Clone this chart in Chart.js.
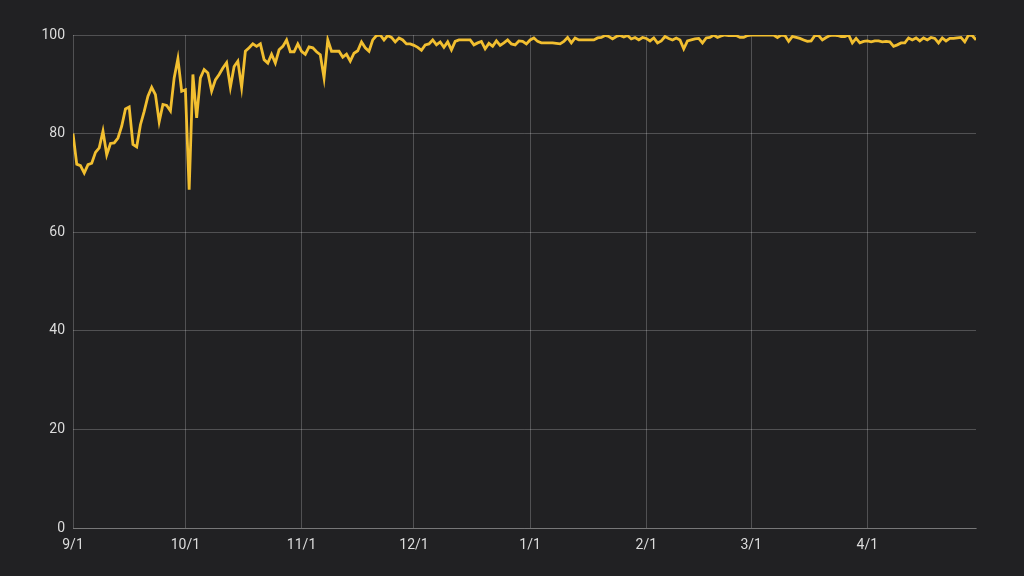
<!DOCTYPE html>
<html>
<head>
<meta charset="utf-8">
<script src="https://cdn.jsdelivr.net/npm/chart.js@4"></script>
<style>
html,body{margin:0;padding:0;background:#212123;}
#wrap{width:1024px;height:576px;position:relative;}
</style>
</head>
<body>
<div id="wrap"><canvas id="c" width="1024" height="576"></canvas></div>
<script>
// Daily values 9/1 .. 4/30 (day index 0..241)
const values = [
 80.0,73.8,73.5,72.0,73.7,74.0,76.2,77.1,80.5,75.7,
 78.0,78.1,79.1,81.5,85.0,85.4,77.8,77.3,81.8,84.5,
 87.6,89.4,87.9,82.4,85.9,85.7,84.6,91.3,95.2,88.6,
 88.9,68.6,92.0,83.2,91.3,93.0,92.3,88.6,90.9,92.0,
 93.3,94.4,89.4,93.6,94.7,89.4,96.7,97.4,98.2,97.7,
 98.2,95.0,94.3,96.1,94.3,97.0,97.7,99.0,96.6,96.6,
 98.2,96.7,96.1,97.6,97.4,96.6,96.0,91.3,99.0,96.7,
 96.7,96.7,95.5,96.1,94.7,96.3,96.8,98.6,97.4,96.7,
 99.0,99.9,100.0,99.0,99.9,99.5,98.6,99.4,99.0,98.2,
 98.2,97.9,97.5,96.9,98.0,98.2,99.0,98.0,98.6,97.5,
 98.6,97.0,98.7,99.0,99.0,99.0,99.0,98.0,98.4,98.7,
 97.2,98.3,97.7,98.8,97.9,98.4,99.0,98.2,98.0,98.8,
 98.7,98.2,99.0,99.4,98.7,98.4,98.4,98.4,98.4,98.3,
 98.2,98.7,99.5,98.4,99.4,99.0,99.0,99.0,99.0,99.0,
 99.4,99.5,99.9,99.7,99.2,99.7,99.9,99.6,99.9,99.2,
 99.5,99.0,99.5,99.3,98.8,99.4,98.4,98.8,99.7,99.3,
 99.0,99.4,99.0,97.2,98.8,99.0,99.2,99.3,98.4,99.4,
 99.5,100.0,99.5,99.8,100.0,99.9,99.9,99.9,99.5,99.5,
 99.9,100.0,100.0,100.0,100.0,100.0,100.0,100.0,99.5,100.0,
 99.9,98.7,99.7,99.5,99.3,99.0,98.7,98.8,99.9,99.9,
 99.0,99.5,99.9,100.0,99.9,99.7,99.7,100.0,98.4,99.3,
 98.4,98.7,98.8,98.6,98.8,98.8,98.6,98.7,98.6,97.7,
 98.0,98.4,98.4,99.4,99.0,99.4,98.8,99.4,99.0,99.5,
 99.3,98.4,99.4,98.8,99.3,99.3,99.4,99.5,98.6,100.0,
 99.9,99.0
];
const tickDays = [0, 30, 61, 91, 122, 153, 181, 212];
const tickLabels = ['9/1', '10/1', '11/1', '12/1', '1/1', '2/1', '3/1', '4/1'];
const yTicks = [0, 20, 40, 60, 80, 100];

const points = values.map((v, i) => ({x: i, y: v}));
const gridColor = 'rgba(255,255,255,0.22)';
const textColor = '#dcdcdc';

new Chart(document.getElementById('c'), {
  type: 'line',
  data: { datasets: [{
    data: points,
    borderColor: '#f2bf30',
    borderWidth: 2.8,
    pointRadius: 0,
    tension: 0,
    fill: false
  }]},
  options: {
    responsive: false,
    animation: false,
    devicePixelRatio: 1,
    plugins: { legend: {display:false}, tooltip: {enabled:false} },
    layout: { padding: {left: 0, right: 48, top: 35, bottom: 0} },
    scales: {
      x: {
        type: 'linear',
        min: 0, max: values.length - 1,
        afterBuildTicks: s => { s.ticks = tickDays.map(v => ({value: v})); },
        afterFit: s => { s.height = 48; },
        ticks: {
          autoSkip: false, maxRotation: 0, padding: 9,
          color: textColor, font: {family: 'Roboto', size: 14},
          callback: (v) => tickLabels[tickDays.indexOf(v)]
        },
        grid: { color: gridColor, drawTicks: false, lineWidth: 1 },
        border: { display: true, color: gridColor }
      },
      y: {
        min: 0, max: 100,
        afterBuildTicks: s => { s.ticks = yTicks.map(v => ({value: v})); },
        afterFit: s => { s.width = 73; },
        ticks: {
          padding: 8,
          color: textColor, font: {family: 'Roboto', size: 14}
        },
        grid: { color: gridColor, drawTicks: false, lineWidth: 1 },
        border: { display: false }
      }
    }
  },
  plugins: [{
    id: 'bg',
    beforeDraw: c => { const g = c.ctx; g.save(); g.fillStyle = '#212123'; g.fillRect(0,0,c.width,c.height); g.restore(); }
  }]
});
</script>
</body>
</html>
